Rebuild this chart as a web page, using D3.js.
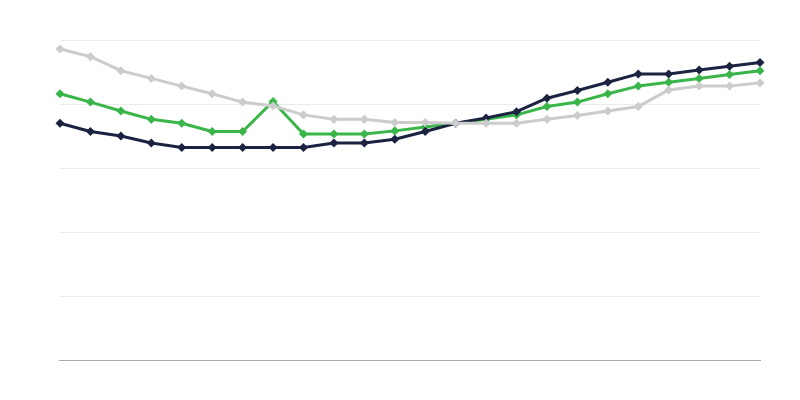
<!DOCTYPE html>
<html>
<head>
<meta charset="utf-8">
<script src="https://cdn.jsdelivr.net/npm/d3@7"></script>
<style>
  html, body { margin: 0; padding: 0; background: #ffffff; }
  svg { display: block; }
</style>
</head>
<body>
<svg id="chart" width="800" height="400"></svg>
<script>
// Categories (24 unlabeled periods)
const categories = d3.range(1, 25).map(i => "P" + i);
const yTicks = [0, 1, 2, 3, 4, 5];

const seriesGray  = [4.86, 4.74, 4.52, 4.40, 4.28, 4.16, 4.03, 3.97, 3.83, 3.76, 3.76, 3.71, 3.71, 3.70, 3.70, 3.70, 3.76, 3.82, 3.89, 3.96, 4.22, 4.28, 4.28, 4.33];
const seriesGreen = [4.16, 4.03, 3.89, 3.76, 3.70, 3.57, 3.57, 4.04, 3.53, 3.53, 3.53, 3.58, 3.64, 3.70, 3.76, 3.83, 3.96, 4.03, 4.16, 4.28, 4.34, 4.40, 4.46, 4.52];
const seriesNavy  = [3.70, 3.57, 3.50, 3.39, 3.32, 3.32, 3.32, 3.32, 3.32, 3.39, 3.39, 3.45, 3.57, 3.70, 3.78, 3.88, 4.09, 4.21, 4.34, 4.47, 4.47, 4.53, 4.59, 4.65];

const series = [
  { name: "green", values: seriesGreen, color: "#3ab54a" },
  { name: "navy",  values: seriesNavy,  color: "#1b2341" },
  { name: "gray",  values: seriesGray,  color: "#cccccc" }
];

const svg = d3.select("#chart");
const mLeft = 60, mRight = 760, mTop = 40, mBottom = 360;

const x = d3.scalePoint().domain(categories).range([mLeft, mRight]);
const y = d3.scaleLinear().domain([0, 5]).range([mBottom, mTop]);

// Grid lines
svg.append("g")
  .selectAll("line")
  .data(yTicks.filter(t => t > 0))
  .join("line")
  .attr("x1", mLeft).attr("x2", mRight)
  .attr("y1", d => Math.round(y(d)) + 0.5).attr("y2", d => Math.round(y(d)) + 0.5)
  .attr("stroke", "#ececec").attr("stroke-width", 1);

// X axis line
const xAxis = d3.axisBottom(x).tickSize(0).tickFormat("");
svg.append("g")
  .attr("transform", `translate(0,${mBottom + 0.5})`)
  .call(xAxis)
  .call(g => g.select(".domain").attr("stroke", "#aaaaaa").attr("stroke-width", 1)
                .attr("d", `M${mLeft - 1},0H${mRight + 1}`));

const line = d3.line()
  .x((d, i) => x(categories[i]))
  .y(d => y(d));

const diamond = d3.symbol().type(d3.symbolDiamond2).size(52);

series.forEach(s => {
  const g = svg.append("g");
  g.append("path")
    .datum(s.values)
    .attr("fill", "none")
    .attr("stroke", s.color)
    .attr("stroke-width", 3)
    .attr("stroke-linejoin", "round")
    .attr("d", line);
  g.selectAll("path.pt")
    .data(s.values)
    .join("path")
    .attr("class", "pt")
    .attr("transform", (d, i) => `translate(${x(categories[i])},${y(d)})`)
    .attr("d", diamond)
    .attr("fill", s.color);
});
</script>
</body>
</html>
